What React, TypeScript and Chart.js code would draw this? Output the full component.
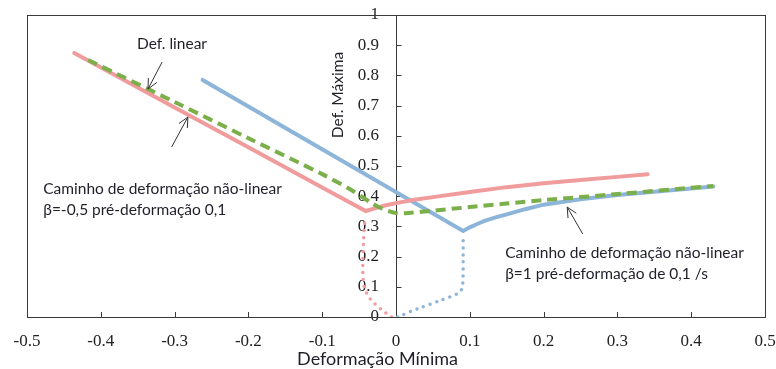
import React, { useEffect, useRef } from "react";
import { Chart, registerables } from "chart.js";

Chart.register(...registerables);

// Red (solid) – β=-0,5 path
const redX = [-0.436, -0.3, -0.2, -0.1, -0.041, -0.03, -0.015, 0, 0.025, 0.05, 0.1, 0.15, 0.2, 0.25, 0.3, 0.341];
const redY = [0.874, 0.694, 0.562, 0.429, 0.351, 0.359, 0.369, 0.377, 0.388, 0.397, 0.414, 0.43, 0.443, 0.454, 0.464, 0.473];
// Red dotted (pre-strain path)
const redDotX = [-0.006, -0.02, -0.035, -0.043, -0.045, -0.044, -0.042];
const redDotY = [0, 0.025, 0.06, 0.1, 0.15, 0.25, 0.33];
// Green dashed (linear strain path)
const greenX = [-0.417, -0.3, -0.2, -0.1, -0.06, -0.035, -0.02, 0, 0.02, 0.05, 0.1, 0.15, 0.2, 0.3, 0.43];
const greenY = [0.851, 0.712, 0.592, 0.473, 0.42, 0.38, 0.36, 0.344, 0.345, 0.352, 0.364, 0.376, 0.387, 0.407, 0.434];
// Blue (solid) β=1
const blueX = [-0.262, 0.091, 0.1, 0.11, 0.12, 0.135, 0.15, 0.175, 0.2, 0.25, 0.3, 0.35, 0.43];
const blueY = [0.785, 0.285, 0.297, 0.308, 0.318, 0.33, 0.34, 0.357, 0.372, 0.39, 0.404, 0.415, 0.432];
// Blue dotted (pre-strain path)
const blueDotX = [0.002, 0.03, 0.06, 0.085, 0.09, 0.091, 0.091];
const blueDotY = [0, 0.028, 0.055, 0.08, 0.1, 0.2, 0.27];

const xTickMin = -0.5;
const xTickMax = 0.5;
const yTickMin = 0;
const yTickMax = 1;

const xTitle = "Deformação Mínima";
const yTitle = "Def. Máxima";

// Annotation texts (anchored in data units)
const notes = [
  { text: "Def. linear", x: -0.351, y: 0.904 },
  { text: "Caminho de deformação não-linear", x: -0.478, y: 0.424 },
  { text: "β=-0,5 pré-deformação 0,1", x: -0.478, y: 0.354 },
  { text: "Caminho de deformação não-linear", x: 0.148, y: 0.212 },
  { text: "β=1 pré-deformação de 0,1 /s", x: 0.148, y: 0.142 },
];
// Arrows: tail -> head, in data units
const arrows = [
  { x1: -0.317, y1: 0.844, x2: -0.336, y2: 0.755 },
  { x1: -0.304, y1: 0.563, x2: -0.282, y2: 0.662 },
  { x1: 0.253, y1: 0.275, x2: 0.232, y2: 0.364 },
];

const RED = "#F19C9C";
const GREEN = "#7AAF4A";
const BLUE = "#8DB5DA";

const pts = (xs: number[], ys: number[]) => xs.map((x, i) => ({ x, y: ys[i] }));

const decor = {
  id: "decor",
  beforeDatasetsDraw(chart: any) {
    const { ctx, chartArea: a, scales } = chart;
    const x = scales.x;
    const y = scales.y;
    ctx.save();
    ctx.strokeStyle = "#3a3a3a";
    ctx.lineWidth = 1;
    ctx.strokeRect(Math.round(a.left) + 0.5, Math.round(a.top) + 0.5, Math.round(a.right - a.left), Math.round(a.bottom - a.top));
    const x0 = Math.round(x.getPixelForValue(0)) + 0.5;
    ctx.beginPath();
    ctx.moveTo(x0, a.top);
    ctx.lineTo(x0, a.bottom);
    y.ticks.forEach((t: any) => {
      const py = Math.round(y.getPixelForValue(t.value)) + 0.5;
      ctx.moveTo(x0, py);
      ctx.lineTo(x0 + 5, py);
    });
    x.ticks.forEach((t: any) => {
      const px = Math.round(x.getPixelForValue(t.value)) + 0.5;
      ctx.moveTo(px, a.bottom);
      ctx.lineTo(px, a.bottom - 5);
    });
    ctx.stroke();
    ctx.restore();
  },
  afterDatasetsDraw(chart: any) {
    const { ctx, chartArea: a, scales } = chart;
    const x = scales.x;
    const y = scales.y;
    ctx.save();
    ctx.fillStyle = "#1f1f2a";
    ctx.font = "15.5px Lato, 'Open Sans', sans-serif";
    ctx.textAlign = "left";
    ctx.textBaseline = "middle";
    notes.forEach((n) => {
      ctx.fillText(n.text, x.getPixelForValue(n.x), y.getPixelForValue(n.y));
    });
    ctx.strokeStyle = "#333";
    ctx.lineWidth = 1;
    arrows.forEach((ar) => {
      const x1 = x.getPixelForValue(ar.x1);
      const y1 = y.getPixelForValue(ar.y1);
      const x2 = x.getPixelForValue(ar.x2);
      const y2 = y.getPixelForValue(ar.y2);
      const ang = Math.atan2(y2 - y1, x2 - x1);
      const L = 11;
      const s = 0.45;
      ctx.beginPath();
      ctx.moveTo(x1, y1);
      ctx.lineTo(x2, y2);
      ctx.moveTo(x2 - L * Math.cos(ang - s), y2 - L * Math.sin(ang - s));
      ctx.lineTo(x2, y2);
      ctx.lineTo(x2 - L * Math.cos(ang + s), y2 - L * Math.sin(ang + s));
      ctx.stroke();
    });
    // axis titles
    ctx.fillStyle = "#1f1f2a";
    ctx.textAlign = "center";
    ctx.textBaseline = "middle";
    ctx.font = "18px Lato, 'Open Sans', sans-serif";
    ctx.fillText(xTitle, x.getPixelForValue(-0.025), a.bottom + 42);
    ctx.font = "15.5px Lato, 'Open Sans', sans-serif";
    ctx.save();
    ctx.translate(x.getPixelForValue(0) - 58, y.getPixelForValue(0.735));
    ctx.rotate(-Math.PI / 2);
    ctx.fillText(yTitle, 0, 0);
    ctx.restore();
    ctx.restore();
  },
};

const fmt = (v: any) => String(Number(Number(v).toFixed(1)));

export default function App() {
  const ref = useRef<HTMLCanvasElement | null>(null);
  useEffect(() => {
    document.body.style.margin = "0";
    const chart = new Chart(ref.current as HTMLCanvasElement, {
      type: "line",
      data: {
        datasets: [
          { data: pts(redDotX, redDotY), borderColor: RED, borderWidth: 3.5, borderDash: [0, 7], borderCapStyle: "round", pointRadius: 0, fill: false, tension: 0.3 },
          { data: pts(blueDotX, blueDotY), borderColor: BLUE, borderWidth: 3.5, borderDash: [0, 7], borderCapStyle: "round", pointRadius: 0, fill: false, tension: 0.3 },
          { data: pts(greenX, greenY), borderColor: GREEN, borderWidth: 4, borderDash: [10, 6], pointRadius: 0, fill: false, tension: 0.3 },
          { data: pts(redX, redY), borderColor: RED, borderWidth: 4, borderCapStyle: "round", pointRadius: 0, fill: false, tension: 0 },
          { data: pts(blueX, blueY), borderColor: BLUE, borderWidth: 4, borderCapStyle: "round", pointRadius: 0, fill: false, tension: 0 },
        ],
      },
      options: {
        animation: false,
        responsive: true,
        maintainAspectRatio: false,
        layout: { padding: { left: 27, right: 11, top: 15, bottom: 3.6 } },
        plugins: { legend: { display: false }, tooltip: { enabled: false } },
        scales: {
          x: {
            type: "linear",
            position: "bottom",
            min: xTickMin,
            max: xTickMax,
            afterFit: (s: any) => { s.paddingLeft = 0; s.paddingRight = 0; },
            grid: { display: false, drawTicks: false },
            border: { display: false },
            ticks: { stepSize: 0.1, padding: 14, color: "#222", font: { family: "'Liberation Serif', serif", size: 17 }, callback: fmt, maxRotation: 0, autoSkip: false },
          },
          y: {
            type: "linear",
            position: "center",
            min: yTickMin,
            max: yTickMax,
            afterFit: (s: any) => { s.width = 0; s.paddingTop = 0; s.paddingBottom = 0; s.paddingLeft = 0; s.paddingRight = 0; },
            grid: { display: false, drawTicks: false },
            border: { display: false },
            ticks: { stepSize: 0.1, padding: 17, color: "#222", font: { family: "'Liberation Serif', serif", size: 17 }, callback: fmt, autoSkip: false },
          },
        },
      },
      plugins: [decor],
    } as any);
    return () => chart.destroy();
  }, []);
  return (
    <div style={{ position: "relative", width: 776, height: 369, background: "#fff" }}>
      <canvas ref={ref} />
    </div>
  );
}
